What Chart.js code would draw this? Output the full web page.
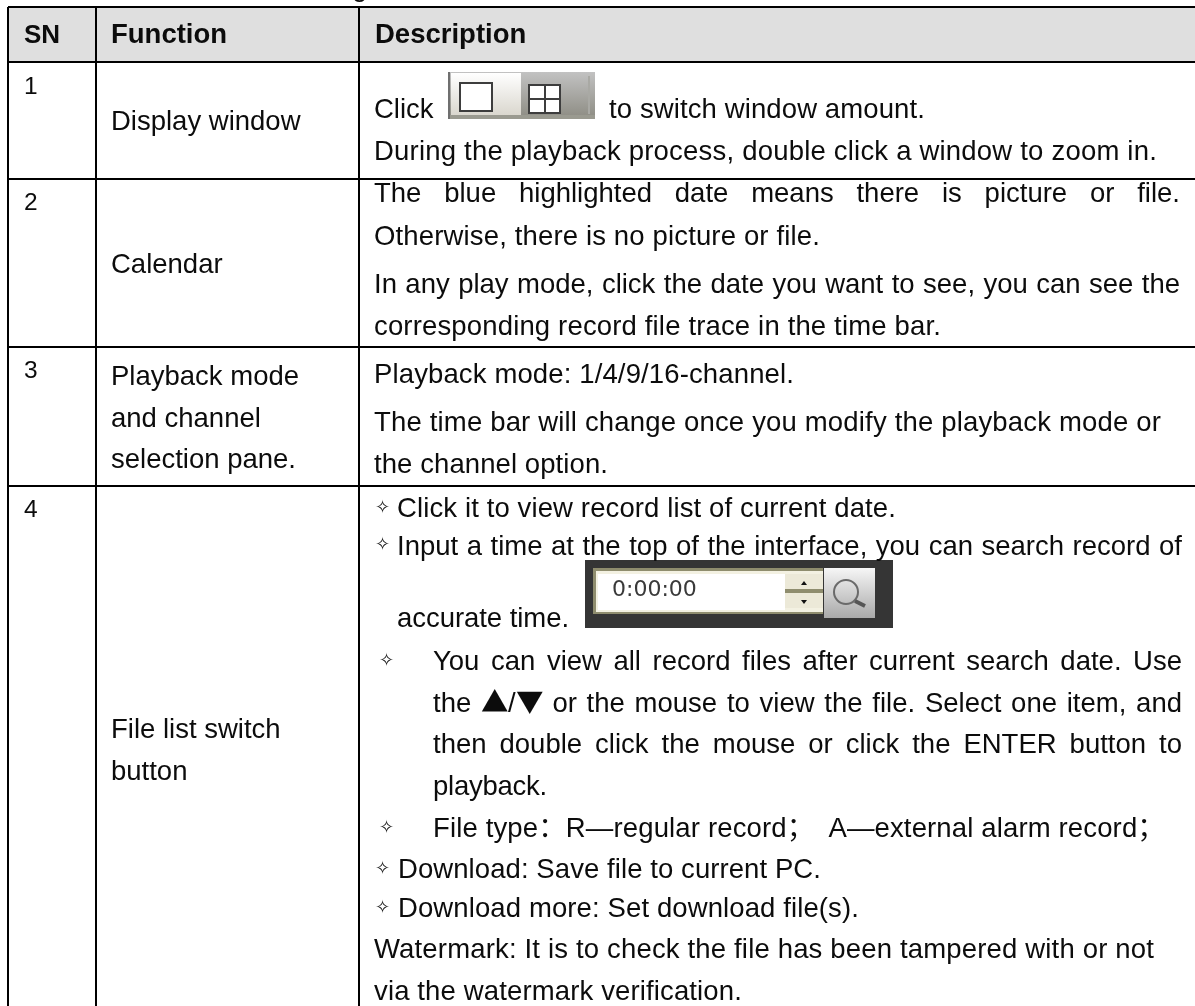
<!DOCTYPE html>
<html><head><meta charset="utf-8">
<style>
@font-face{font-family:"FullWidthMarks";src:local("Noto Sans CJK SC");unicode-range:U+25B2,U+25BC}
html,body{margin:0;padding:0;background:#fff;overflow:hidden}
#wrap{position:relative;width:1195px;height:1006px;overflow:hidden}
#c{position:absolute;left:0;top:0}
.t{position:absolute;white-space:pre;line-height:1em;color:#0c0c0c;
   font-family:"FullWidthMarks","Liberation Sans","Noto Sans CJK SC",sans-serif}
</style>
<script src="https://cdn.jsdelivr.net/npm/chart.js@4/dist/chart.umd.min.js"></script>
</head><body><div id="wrap"><canvas id="c" width="1195" height="1006"></canvas></div>
<script>
// table content
const headerLabels = ['SN','Function','Description'];
const snLabels = ['1','2','3','4'];
const functionLines = ['Display window','Calendar','Playback mode','and channel','selection pane.','File list switch','button'];
const descriptionLines = [
 'Click','to switch window amount.',
 'During the playback process, double click a window to zoom in.',
 'The blue highlighted date means there is picture or file.',
 'Otherwise, there is no picture or file.',
 'In any play mode, click the date you want to see, you can see the',
 'corresponding record file trace in the time bar.',
 'Playback mode: 1/4/9/16-channel.',
 'The time bar will change once you modify the playback mode or',
 'the channel option.',
 'Click it to view record list of current date.',
 'Input a time at the top of the interface, you can search record of',
 'accurate time.',
 'You can view all record files after current search date. Use',
 'the \u25B2/\u25BC or the mouse to view the file. Select one item, and',
 'then double click the mouse or click the ENTER button to',
 'playback.',
 'File type\uFF1AR\u2014regular record\uFF1B  A\u2014external alarm record\uFF1B',
 'Download: Save file to current PC.',
 'Download more: Set download file(s).',
 'Watermark: It is to check the file has been tampered with or not',
 'via the watermark verification.'];
const bulletGlyph = '\u2727';
const widgetClock = '0:00:00';
const cutOffTitle = 'g';

// table geometry, in the page units of the two axes
const columnEdges = [8,96,359];
const rowEdges = [7,62,179,347,486];
const headerBand = [7,62];
const headerX = [24,111,375];
const headerSizes = [26,27.5,27.5];
const headerBaseline = 43;
const snBaselines = [94,210,378,517];
const functionBaselines = [130,273,385,427,468,738,780];
const descriptionX = [374,609,374,374,374,374,374,374,374,374,397,397,397,433,433,433,433,433,398,398,374,374];
const descriptionBaselines = [118,118,160,202,245,293,335,383,431,473,517,555,627,670,712,753,795,837,878,917,958,1000];
const descriptionEnds = [null,925,1157,1180,820,1180,941,794,1161,608,896,1182,569,1182,1182,1182,547,1165,821,859,1154,742];
const justifiedLines = [3,5,11,13,14,15];
const bulletX = [375,375,379,379,375,375];
const bulletBaselines = [513,550,666,833,874,913];
const FONT = 27.5;

const wrap = document.getElementById('wrap');
function place(str,x,base,opt){
  opt = opt||{};
  const fs = opt.size||FONT;
  const d = document.createElement('div');
  d.className='t'; d.textContent=str;
  d.style.fontSize=fs+'px';
  if(opt.bold) d.style.fontWeight='700';
  if(opt.font) d.style.fontFamily=opt.font;
  if(opt.color) d.style.color=opt.color;
  d.style.left=x+'px';
  d.style.top=(base-(opt.asc||0.8305)*fs)+'px';
  wrap.appendChild(d);
  if(opt.end){
    const w=d.getBoundingClientRect().width;
    const n=(str.match(/ /g)||[]).length;
    if(opt.justify && n) d.style.wordSpacing=((opt.end-x-w)/n)+'px';
    else d.style.letterSpacing=((opt.end-x-w)/str.length)+'px';
  }
}

const widgets = {
  id:'widgets',
  afterDraw(chart){
    const g = chart.ctx, X=chart.scales.x, Y=chart.scales.y;
    const R=(x0,y0,x1,y1,f)=>{g.fillStyle=f;g.fillRect(X.getPixelForValue(x0),Y.getPixelForValue(y0),x1-x0,y1-y0);};
    const grad=(y0,y1,a,b)=>{const l=g.createLinearGradient(0,y0,0,y1);l.addColorStop(0,a);l.addColorStop(1,b);return l;};
    g.save();
    // window-amount button strip
    R(448,72,595,119,grad(72,119,'#c2c2c2','#8c8b82'));
    R(451,73,521,116,grad(73,116,'#ffffff','#d9d6cd'));
    R(448,72,450,119,'#6f6f6f');
    R(450,115,595,119,'#9a9a90');
    R(588,76,590,114,'#a9a9a4');
    g.fillStyle='#fff';g.strokeStyle='#3d3d3d';g.lineWidth=2;
    g.fillRect(460,83,32,28);g.strokeRect(460,83,32,28);
    g.fillRect(529,85,31,28);g.strokeRect(529,85,31,28);
    g.beginPath();g.moveTo(545,85);g.lineTo(545,113);g.moveTo(529,99);g.lineTo(560,99);g.stroke();
    // time search widget
    R(585,560,893,628,'#353535');
    R(593,568,823,614,'#8f8d6e');
    R(596,571,823,612,'#f3f1e2');
    R(598,574,785,610,'#ffffff');
    R(785,574,823,590,'#ece9d8');
    R(785,593,823,608,'#ece9d8');
    R(785,589,823,593,'#8f8d6e');
    g.fillStyle='#111';
    g.beginPath();g.moveTo(801,585);g.lineTo(804,581);g.lineTo(807,585);g.closePath();g.fill();
    g.beginPath();g.moveTo(801,600);g.lineTo(804,604);g.lineTo(807,600);g.closePath();g.fill();
    R(824,568,875,618,grad(568,618,'#f6f6f6','#a9a9a9'));
    g.strokeStyle='#6a6a6a';g.lineWidth=2;
    g.beginPath();g.arc(846,592,12,0,Math.PI*2);g.stroke();
    g.strokeStyle='#555';g.lineWidth=4;
    g.beginPath();g.moveTo(855,601);g.lineTo(865,606);g.stroke();
    g.restore();
  }
};

new Chart(document.getElementById('c'),{
  type:'line',
  data:{datasets:[{
    data:[{x:columnEdges[0],y:headerBand[0]},{x:1195,y:headerBand[0]}],
    fill:{value:headerBand[1]},backgroundColor:'#dfdfdf',borderWidth:0,pointRadius:0
  }]},
  options:{
    responsive:false,animation:false,
    layout:{padding:{left:8,top:7,right:0,bottom:0}},
    plugins:{legend:{display:false},tooltip:{enabled:false},title:{display:false}},
    scales:{
      x:{type:'linear',min:8,max:1195,
         afterBuildTicks:s=>{s.ticks=columnEdges.map(value=>({value}));},
         ticks:{display:false},border:{display:false},
         grid:{color:'#000',lineWidth:2,drawTicks:false,z:1}},
      y:{type:'linear',reverse:true,min:7,max:1006,
         afterBuildTicks:s=>{s.ticks=rowEdges.map(value=>({value}));},
         ticks:{display:false},border:{display:false},
         grid:{color:'#000',lineWidth:2,drawTicks:false,z:1}}
    }
  },
  plugins:[widgets]
});

function layoutText(){
  wrap.querySelectorAll('.t').forEach(n=>n.remove());
  place(cutOffTitle,352,-4);
  headerLabels.forEach((s,i)=>place(s,headerX[i],headerBaseline,{bold:true,size:headerSizes[i]}));
  snLabels.forEach((s,i)=>place(s,24,snBaselines[i],{size:24.5}));
  functionLines.forEach((s,i)=>place(s,111,functionBaselines[i]));
  descriptionLines.forEach((s,i)=>place(s,descriptionX[i],descriptionBaselines[i],
    {end:descriptionEnds[i],justify:justifiedLines.includes(i)}));
  bulletX.forEach((x,i)=>place(bulletGlyph,x,bulletBaselines[i],{size:18,font:'"DejaVu Sans"'}));
  place(widgetClock,612,596,{size:22,color:'#3a3a3a',font:'"DejaVu Sans"'});
}
layoutText();
if(document.fonts&&document.fonts.load){
  document.fonts.load('27.5px "FullWidthMarks"','\u25B2').then(layoutText).catch(()=>{});
}
</script></body></html>
